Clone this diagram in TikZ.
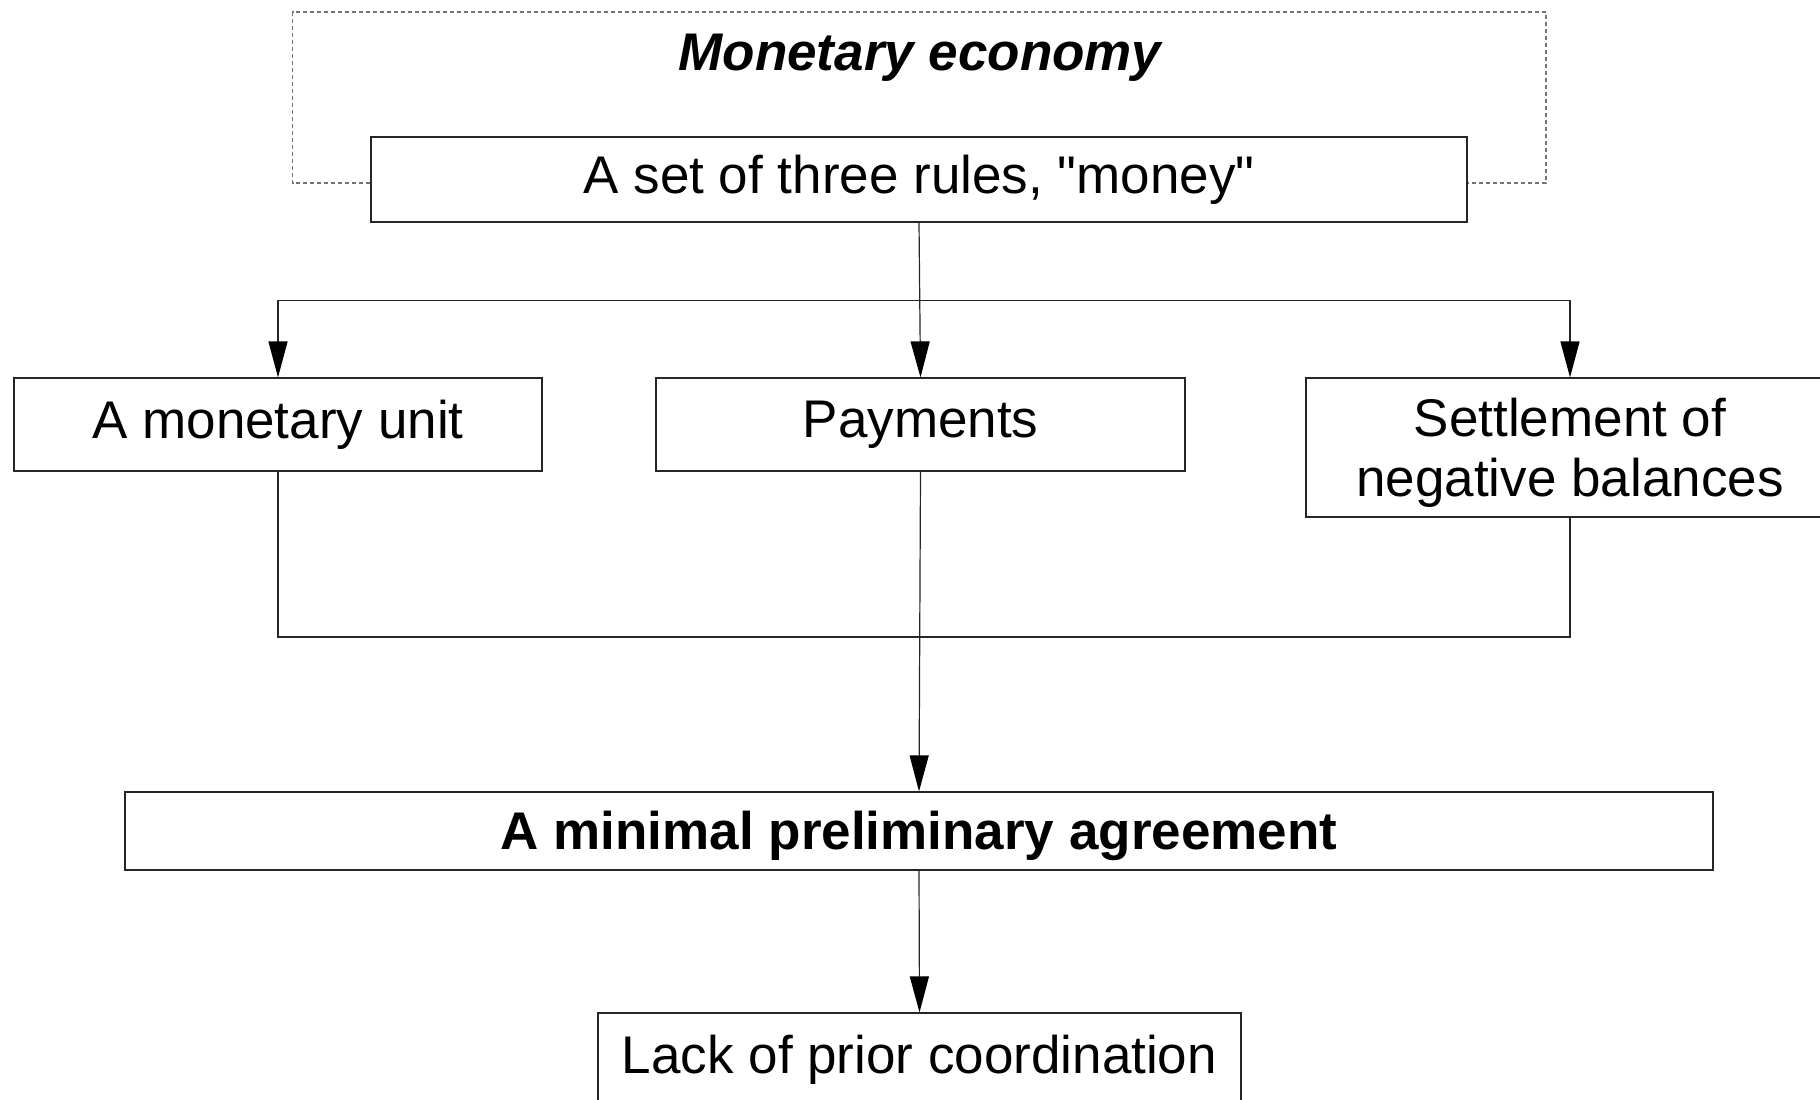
\documentclass[tikz,border=0pt]{standalone}
\usepackage{fontspec}
\setmainfont{Liberation Sans}
\newfontfamily\plainfont{Liberation Sans}[Ligatures=TeXOff]
\usetikzlibrary{arrows.meta,calc}
\newcommand{\lowertext}[1]{\raisebox{-5pt}[\height][\depth]{#1}}
\begin{document}
\begin{tikzpicture}[x=1pt,y=-1pt,
  box/.style={draw=black!85,line width=1.2pt,inner sep=0pt,align=center,
    font=\fontsize{53}{60}\selectfont},
  conn/.style={draw=black!85,line width=1.2pt},
  arr/.style={conn,-{Triangle[length=36pt,width=19pt,fill=black,color=black]}},
  dashbox/.style={draw=black!55,line width=1.5pt,dash pattern=on 4pt off 3pt}]
\useasboundingbox (0,0) rectangle (1820,1100);
\clip (0,0) rectangle (1820,1100);
\fill[white] (0,0) rectangle (1820,1100);

\node[font=\fontsize{53}{60}\selectfont\bfseries\itshape] (title) at (920,58) {Monetary economy};
\node[box,minimum width=1096pt,minimum height=85pt,font=\fontsize{53}{60}\plainfont] (rules) at (919,179.5) {A set of three rules, "money"};

\node[box,minimum width=528pt,minimum height=93pt] (unit) at (278,424.5) {A monetary unit};
\node[box,minimum width=529pt,minimum height=93pt] (pay) at (920.5,424.5) {Payments};
\node[box,minimum width=528pt,minimum height=139pt] (settle) at (1570,447.5) {\lowertext{\parbox{528pt}{\centering Settlement of\\negative balances}}};

\node[box,minimum width=1588pt,minimum height=78pt,font=\fontsize{53}{60}\selectfont\bfseries] (min) at (919,831) {\lowertext{A minimal preliminary agreement}};
\node[box,minimum width=643pt,minimum height=93pt] (lack) at (919.5,1059.5) {Lack of prior coordination};

% dashed frame
\coordinate (dl) at (292.5,183);
\coordinate (dr) at (1546,183);
\draw[dashbox] (rules.west |- dl) -- (dl) -- (292.5,12) -- (1546,12) -- (dr) -- (rules.east |- dr);

% distribution
\coordinate (split) at (919,300.5);
\draw[arr] (rules.south) -- (pay.north);
\draw[arr] (split) -| (unit.north);
\draw[arr] (split) -| (settle.north);

% merge
\coordinate (mj) at (920,637);
\draw[conn] (unit.south) |- (mj) -| (settle.south);
\draw[arr] (pay.south) -- (min.north);
\draw[arr] (min.south) -- (lack.north);
\end{tikzpicture}
\end{document}
